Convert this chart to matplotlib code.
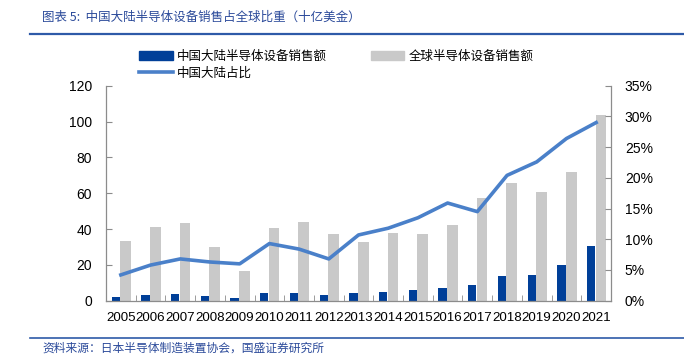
import matplotlib
matplotlib.use("Agg")
import matplotlib.pyplot as plt
import numpy as np
from matplotlib.lines import Line2D
from matplotlib.patches import Patch

plt.rcParams['font.family'] = ['Liberation Sans', 'Noto Sans CJK SC', 'DejaVu Sans']

years = ['2005', '2006', '2007', '2008', '2009', '2010', '2011', '2012', '2013',
         '2014', '2015', '2016', '2017', '2018', '2019', '2020', '2021']
china_sales = [2.1, 3.2, 3.7, 2.6, 1.7, 4.5, 4.5, 3.4, 4.1, 5.0, 5.8, 7.3, 9.0, 13.9, 14.3, 19.7, 30.6]
global_sales = [33.5, 41.0, 43.5, 30.0, 16.5, 40.5, 44.0, 37.5, 32.5, 38.0, 37.0, 42.0,
                57.5, 65.5, 60.5, 72.0, 103.5]
china_share = [4.2, 5.8, 6.8, 6.3, 6.0, 9.3, 8.4, 6.8, 10.7, 11.8, 13.5, 15.9,
               14.5, 20.4, 22.6, 26.4, 29.0]

title = '图表 5:  中国大陆半导体设备销售占全球比重（十亿美金）'
source = '资料来源：日本半导体制造装置协会，国盛证券研究所'
lab_china = '中国大陆半导体设备销售额'
lab_global = '全球半导体设备销售额'
lab_share = '中国大陆占比'

c_blue = '#003f98'
c_gray = '#c9c9c9'
c_line = '#4a80c9'
c_title = '#2b4a9a'
c_axis = '#8c8c8c'

W, H = 684, 364
fig = plt.figure(figsize=(W / 100, H / 100), dpi=100)
ax = fig.add_axes([106 / W, 1 - 300.7 / H, (611 - 106) / W, (300.7 - 85.7) / H])

x = np.arange(len(years))
ax.bar(x - 0.17, china_sales, width=0.28, color=c_blue, zorder=2)
ax.bar(x + 0.16, global_sales, width=0.36, color=c_gray, zorder=2)
ax.set_xlim(-0.5, len(years) - 0.5)
ax.set_ylim(0, 120)
ax.set_yticks(range(0, 121, 20))
ax.set_xticks(x)
ax.set_xticklabels(years)
ax.set_xticks(np.arange(-0.5, len(years) - 0.4, 1), minor=True)
ax.tick_params(axis='x', which='major', length=0, pad=8, labelsize=9.6)
ax.tick_params(axis='x', which='minor', length=4, direction='in', color=c_axis)
ax.tick_params(axis='y', length=4, direction='in', color=c_axis, pad=10, labelsize=10)

ax2 = ax.twinx()
ax2.plot(x, china_share, color=c_line, lw=2.6, zorder=3)
ax2.set_ylim(0, 35)
ax2.set_yticks(range(0, 36, 5))
ax2.set_yticklabels([f'{v}%' for v in range(0, 36, 5)])
ax2.tick_params(axis='y', length=4, direction='in', color=c_axis, pad=10, labelsize=10)

for a in (ax, ax2):
    a.spines['top'].set_visible(False)
    for s in ('left', 'right', 'bottom'):
        a.spines[s].set_color(c_axis)
        a.spines[s].set_linewidth(0.9)
ax.spines['right'].set_visible(False)
ax2.spines['left'].set_visible(False)
ax2.spines['bottom'].set_visible(False)

# Title and rules
cjk = ['Noto Sans CJK SC', 'DejaVu Sans']
fig.text(42 / W, 1 - 17 / H, title, fontsize=9, color=c_title, style='italic',
         va='center', ha='left', family=cjk)
fig.add_artist(Line2D([30 / W, 1.0], [1 - 33.5 / H] * 2, color='#2e5aa8', lw=1.6))
fig.add_artist(Line2D([30 / W, 1.0], [1 - 338 / H] * 2, color='#2e5aa8', lw=1.2))
fig.text(42 / W, 1 - 348 / H, source, fontsize=8.5, color=c_title, style='italic',
         va='center', ha='left', family=cjk)

# Legend
handles = [Patch(color=c_blue), Line2D([], [], color=c_line, lw=2.6), Patch(color=c_gray)]
labels = [lab_china, lab_share, lab_global]
leg = fig.legend(handles, labels, ncol=2,
                 loc='upper left', bbox_to_anchor=(130 / W, 1 - 41 / H),
                 frameon=False, handlelength=2.7, handleheight=0.7,
                 columnspacing=3.5, handletextpad=0.35, labelspacing=0.3,
                 borderpad=0.2,
                 prop={'family': cjk, 'size': 9})

fig.savefig('out.png', dpi=100)
